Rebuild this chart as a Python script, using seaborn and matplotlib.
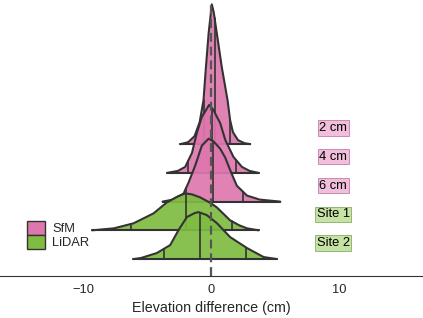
import matplotlib
matplotlib.use("Agg")
import matplotlib.pyplot as plt
import seaborn as sns
import numpy as np
from matplotlib.patches import Patch

# ridge names, top to bottom
ridges = ["2 cm", "4 cm", "6 cm", "Site 1", "Site 2"]
groups = ["SfM", "SfM", "SfM", "LiDAR", "LiDAR"]

# density outlines (x in cm, height in px of the reference)
x_2cm = [-2.4, -1.8, -1.3, -0.9, -0.6, -0.41, -0.2, 0.05, 0.2, 0.44, 0.83, 1.28, 1.48, 1.7, 2.1, 2.6, 3.05]
h_2cm = [0, 2, 8, 22, 44, 77, 111, 140, 132, 111, 77, 44, 24, 12, 4, 1, 0]

x_4cm = [-3.44, -2.6, -2.03, -1.5, -1.12, -0.73, -0.16, 0.18, 0.45, 0.7, 1.1, 1.74, 2.4, 3.0, 3.7]
h_4cm = [0, 2, 6, 20, 40, 56, 68, 63, 56, 50, 33, 16, 6, 2, 0]

x_6cm = [-3.8, -3.0, -2.16, -1.77, -1.25, -0.73, -0.2, 0.2, 0.7, 1.1, 1.5, 2.0, 2.8, 3.8, 5.4]
h_6cm = [0, 2, 8, 19, 36, 56, 63, 60, 53, 44, 31, 16, 6, 2, 0]

x_site1 = [-9.3, -7.6, -6.07, -4.5, -3.46, -2.6, -2.03, -1.5, -0.86, 0.0, 0.44, 1.0, 1.48, 2.2, 2.8, 3.7]
h_site1 = [0, 2, 7, 17, 28, 34, 37, 36, 33, 27, 23, 16, 10, 5, 2, 0]

x_site2 = [-6.07, -5.5, -4.25, -3.2, -2.55, -1.9, -1.3, -0.99, -0.34, 0.44, 1.48, 2.8, 4.1, 5.13]
h_site2 = [0, 1, 6, 14, 29, 42, 46, 47, 44, 36, 22, 11, 2, 0]

# quantile lines (lower, median, upper) in cm
q_2cm = [-0.6, 0.27, 1.5]
q_4cm = [-1.8, 0.1, 1.93]
q_6cm = [-1.95, 0.16, 2.48]
q_site1 = [-6.25, -1.95, 1.64]
q_site2 = [-3.67, -0.86, 2.75]

xs = [x_2cm, x_4cm, x_6cm, x_site1, x_site2]
hs = [h_2cm, h_4cm, h_6cm, h_site1, h_site2]
qs = [q_2cm, q_4cm, q_6cm, q_site1, q_site2]

fill = {"SfM": "#DE77AE", "LiDAR": "#7FBC41"}
box = {"SfM": "#F1BFDB", "LiDAR": "#C6E2A4"}
box_edge = {"SfM": "#C98AB0", "LiDAR": "#93B873"}
edge = "#333333"
scale = 1 / 28.75  # px height -> ridge spacing units

sns.set_style("white")
plt.rcParams["font.family"] = ["Liberation Sans", "DejaVu Sans"]

fig = plt.figure(figsize=(4.23, 3.18), dpi=100)
ax = fig.add_axes([0, 42 / 318, 1, 276 / 318])

n = len(ridges)
for i, (name, grp, x, h, q) in enumerate(zip(ridges, groups, xs, hs, qs)):
    base = n - 1 - i
    x = np.array(x)
    y = base + np.array(h) * scale
    z = 2 + i * 3
    ax.fill_between(x, base, y, color=fill[grp], alpha=0.92, lw=0, zorder=z)
    sns.lineplot(x=x, y=y, ax=ax, color=edge, lw=1.5, sort=False, zorder=z + 1)
    ax.plot([x[0], x[-1]], [base, base], color=edge, lw=1.5, zorder=z + 1)
    for qv in q:
        ax.plot([qv, qv], [base, np.interp(qv, x, y)], color=edge, lw=1.2, zorder=z + 1)
    ax.text(9.53, base + 0.56, name, ha="center", va="center", fontsize=9.3,
            color="black", zorder=30,
            bbox=dict(boxstyle="square,pad=0.13", fc=box[grp], ec=box_edge[grp], lw=0.7))

ax.axvline(0, ymax=0.985, color="#555555", lw=1.6, ls=(0, (4, 2.2)), zorder=25)

ax.set_xlim(-16.5, 16.55)
ax.set_ylim(-0.59, 9.02)
ax.set_xticks([-10, 0, 10])
ax.set_xticklabels(["\u221210", "0", "10"])
ax.set_yticks([])
ax.tick_params(axis="x", length=3, width=0.6, color="#555555", labelsize=9.3, pad=2.5)
ax.set_xlabel("Elevation difference (cm)", fontsize=10.3, labelpad=4)
sns.despine(ax=ax, left=True, top=True, right=True)
ax.spines["bottom"].set_color("#333333")
ax.spines["bottom"].set_linewidth(0.8)
ax.patch.set_alpha(0)

handles = [Patch(fc=fill["SfM"], ec=edge, lw=1.0, label="SfM"),
           Patch(fc=fill["LiDAR"], ec=edge, lw=1.0, label="LiDAR")]
fig.legend(handles=handles, loc="upper left", bbox_to_anchor=(27 / 423, 1 - 221 / 318),
           frameon=False, fontsize=9.3, handlelength=1.4, handleheight=1.25,
           labelspacing=0.0, handletextpad=0.55, borderpad=0, borderaxespad=0)

fig.savefig("out.png", dpi=100)
